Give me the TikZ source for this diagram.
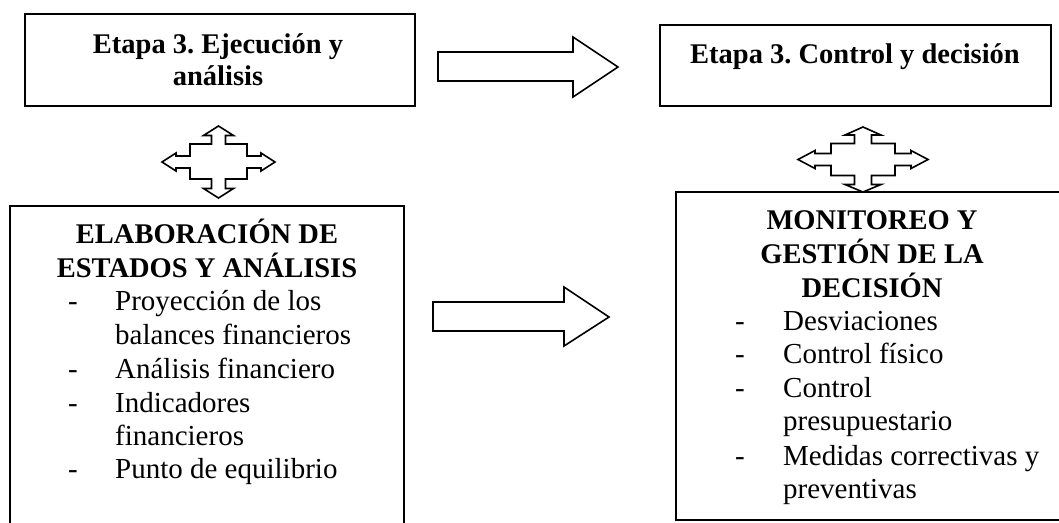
\documentclass[tikz,border=0pt]{standalone}
\usepackage{fontspec}
\setmainfont{Liberation Serif}
\frenchspacing
\begin{document}
\begin{tikzpicture}[x=1pt,y=-1pt,
  frame/.style={draw=black, line width=2pt, inner sep=0pt, outer sep=0pt},
  blk/.style={draw=black, line width=1.6pt, fill=white, line join=miter},
  headtxt/.style={font=\bfseries\fontsize{28.5}{34}\selectfont, inner sep=0pt, anchor=base},
  itemtxt/.style={font=\fontsize{29}{34}\selectfont, inner sep=0pt, anchor=base west}]
\path[use as bounding box] (0,0) rectangle (1059,522);
\fill[white] (0,0) rectangle (1059,522);
\clip (0,0) rectangle (1059,522);

% boxes
\node[frame, minimum width=390pt, minimum height=92pt] (b1) at (220,60) {};
\node[frame, minimum width=391pt, minimum height=81pt] (b2) at (855.5,65.5) {};
\node[frame, minimum width=394pt, minimum height=340pt] (b3) at (207,376) {};
\node[frame, minimum width=392pt, minimum height=328pt] (b4) at (872,356) {};

% top texts
\node[headtxt] (t1a) at (218,53.5) {Etapa 3. Ejecución y};
\node[headtxt] (t1b) at (218,85) {análisis};
\node[headtxt] (t2a) at (855,63) {Etapa 3. Control y decisión};

% left bottom box
\node[headtxt] (t3a) at (207,243) {ELABORACIÓN DE};
\node[headtxt] (t3b) at (207,277) {ESTADOS Y ANÁLISIS};
\node[itemtxt] (t3c) at (68,310) {\makebox[47pt][l]{-}Proyección de los};
\node[itemtxt] (t3d) at (115,344) {balances financieros};
\node[itemtxt] (t3e) at (68,378) {\makebox[47pt][l]{-}Análisis financiero};
\node[itemtxt] (t3f) at (68,412) {\makebox[47pt][l]{-}Indicadores};
\node[itemtxt] (t3g) at (115,445) {financieros};
\node[itemtxt] (t3h) at (68,478) {\makebox[47pt][l]{-}Punto de equilibrio};

% right bottom box
\node[headtxt] (t4a) at (872,229) {MONITOREO Y};
\node[headtxt] (t4b) at (872,263) {GESTIÓN DE LA};
\node[headtxt] (t4c) at (872,297) {DECISIÓN};
\node[itemtxt] (t4d) at (735,330) {\makebox[48pt][l]{-}Desviaciones};
\node[itemtxt] (t4e) at (735,363) {\makebox[48pt][l]{-}Control físico};
\node[itemtxt] (t4f) at (735,397) {\makebox[48pt][l]{-}Control};
\node[itemtxt] (t4g) at (783,430) {presupuestario};
\node[itemtxt] (t4h) at (735,465) {\makebox[48pt][l]{-}Medidas correctivas y};
\node[itemtxt] (t4i) at (783,498) {preventivas};

% block arrows right
\draw[blk] (438,52) -- (573,52) -- (573,37) -- (618,67) -- (573,97) -- (573,81) -- (438,81) -- cycle;
\draw[blk] (433,302) -- (564,302) -- (564,287) -- (609,317) -- (564,346) -- (564,331) -- (433,331) -- cycle;

% quad arrow left
\begin{scope}[shift={(218.5,162)}]
\draw[blk] (0,-36) -- (15,-26.5) -- (7,-26.5) -- (7,-18) -- (28.5,-18) -- (28.5,-6) -- (42.5,-6) -- (42.5,-9) -- (56.5,0)
  -- (42.5,9) -- (42.5,6) -- (28.5,6) -- (28.5,17) -- (7,17) -- (7,26.5) -- (15,26.5) -- (0,36)
  -- (-15,26.5) -- (-7,26.5) -- (-7,17) -- (-28.5,17) -- (-28.5,6) -- (-42.5,6) -- (-42.5,9) -- (-56.5,0)
  -- (-42.5,-9) -- (-42.5,-6) -- (-28.5,-6) -- (-28.5,-18) -- (-7,-18) -- (-7,-26.5) -- (-15,-26.5) -- cycle;
\end{scope}

% quad arrow right
\begin{scope}[shift={(863,159.5)}]
\draw[blk] (0,-32.5) -- (18,-24.5) -- (8.5,-24.5) -- (8.5,-16) -- (32,-16) -- (32,-6) -- (48,-6) -- (48,-9) -- (65,0)
  -- (48,9) -- (48,6) -- (32,6) -- (32,16) -- (8.5,16) -- (8.5,25) -- (18,25) -- (0,32.5)
  -- (-18,25) -- (-8.5,25) -- (-8.5,16) -- (-32,16) -- (-32,6) -- (-48,6) -- (-48,9) -- (-65,0)
  -- (-48,-9) -- (-48,-6) -- (-32,-6) -- (-32,-16) -- (-8.5,-16) -- (-8.5,-24.5) -- (-18,-24.5) -- cycle;
\end{scope}
\end{tikzpicture}
\end{document}
